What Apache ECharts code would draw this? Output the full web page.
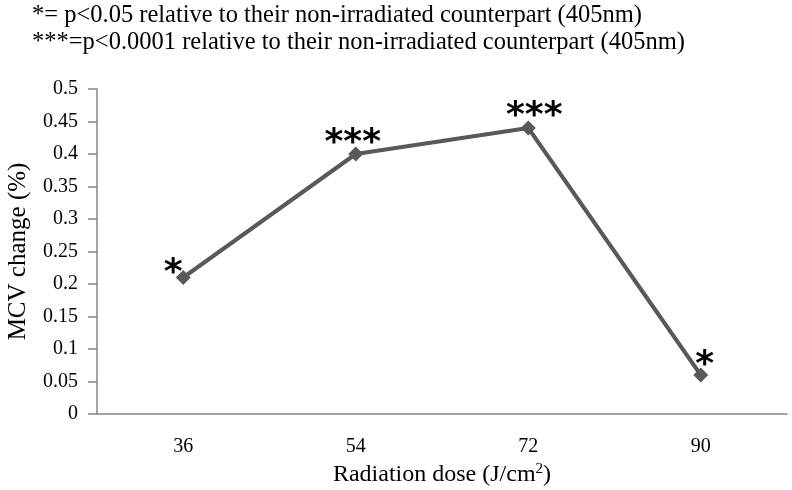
<!DOCTYPE html>
<html><head><meta charset="utf-8">
<script src="https://cdn.jsdelivr.net/npm/echarts@6/dist/echarts.min.js"></script>
<style>html,body{margin:0;padding:0;background:#fff}#c{width:792px;height:490px}</style>
</head><body><div id="c"></div>
<script>
const categories = ['36', '54', '72', '90'];
const mcvChange = [0.21, 0.40, 0.44, 0.06];
const significance = ['*', '***', '***', '*'];
const notes = ['*= p<0.05 relative to their non-irradiated counterpart (405nm)',
               '***=p<0.0001 relative to their non-irradiated counterpart (405nm)'];

const labelOffsets = [[-10, -4], [-3, -10], [6, -11], [4, -9]];
const chart = echarts.init(document.getElementById('c'));
const serif = '"Liberation Serif", "Times New Roman", serif';
chart.setOption({
  animation: false,
  title: {
    text: notes.join('\n'),
    left: 27, top: -3,
    textStyle: { fontFamily: serif, fontSize: 24.5, fontWeight: 'normal', color: '#000', lineHeight: 27 }
  },
  grid: { left: 97, right: 5, top: 89, bottom: 76, outerBoundsMode: 'none' },
  xAxis: {
    type: 'category', data: categories,
    name: 'Radiation dose (J/cm{sup|2})',
    nameLocation: 'middle', nameGap: 48,
    nameTextStyle: { fontFamily: serif, fontSize: 24, color: '#000',
      rich: { sup: { fontFamily: serif, fontSize: 15, color: '#000', verticalAlign: 'top', padding: [0,0,10,0] } } },
    axisLine: { lineStyle: { color: '#868686', width: 1.5 } },
    axisTick: { length: 9, lineStyle: { color: '#868686', width: 1.5 } },
    axisLabel: { fontFamily: serif, fontSize: 20, color: '#000', margin: 23 }
  },
  yAxis: {
    type: 'value', min: 0, max: 0.5, interval: 0.05,
    name: 'MCV change (%)', nameLocation: 'middle', nameGap: 66,
    nameTextStyle: { fontFamily: serif, fontSize: 25, color: '#000' },
    axisLine: { show: true, lineStyle: { color: '#868686', width: 1.5 } },
    axisTick: { show: true, length: 9, lineStyle: { color: '#868686', width: 1.5 } },
    splitLine: { show: false },
    axisLabel: { fontFamily: serif, fontSize: 20, color: '#000', margin: 19 }
  },
  series: [{
    type: 'line',
    data: mcvChange.map((v, i) => ({
      value: v,
      label: { formatter: significance[i], offset: labelOffsets[i] }
    })),
    symbol: 'diamond', symbolSize: 15,
    lineStyle: { color: '#595959', width: 4 },
    itemStyle: { color: '#595959' },
    label: { show: true, position: 'inside', fontFamily: '"DejaVu Sans", sans-serif',
             fontWeight: 'bold', fontSize: 36, color: '#000' }
  }]
});
</script></body></html>
